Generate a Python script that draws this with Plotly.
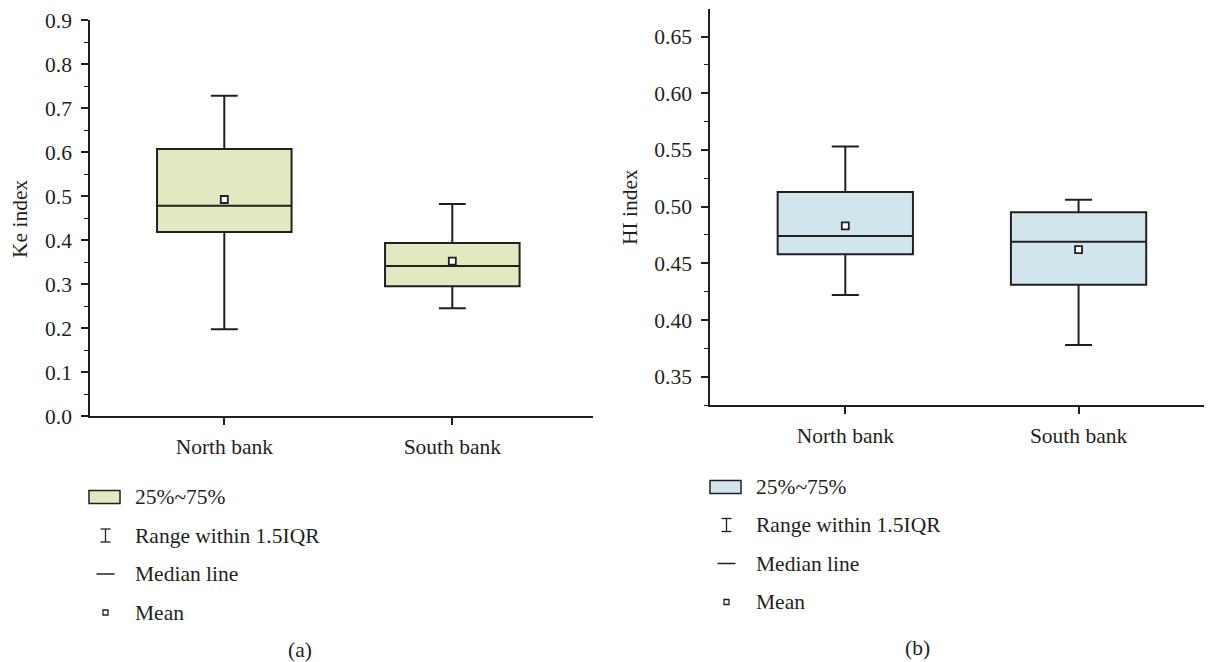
import plotly.graph_objects as go

# ---------------- data ----------------
categories = ["North bank", "South bank"]

# Panel (a): Ke index
ke_q1 = [0.418, 0.295]
ke_median = [0.478, 0.341]
ke_q3 = [0.607, 0.393]
ke_lower = [0.197, 0.245]
ke_upper = [0.728, 0.482]
ke_mean = [0.492, 0.352]

# Panel (b): HI index
hi_q1 = [0.458, 0.431]
hi_median = [0.474, 0.469]
hi_q3 = [0.513, 0.495]
hi_lower = [0.422, 0.378]
hi_upper = [0.553, 0.506]
hi_mean = [0.483, 0.462]

legend_labels = ["25%~75%", "Range within 1.5IQR", "Median line", "Mean"]
panel_labels = ["(a)", "(b)"]
y_titles = ["Ke index", "HI index"]

# ---------------- style ----------------
OFF = 8  # page body margin
W, H = 1212 - OFF, 662 - OFF
INK = "#231F20"
GREEN = "#E0E9C0"
BLUE = "#D1E5EC"
FONT = "Liberation Serif"
FS = 21.5


def px_x(x):
    return (x - OFF) / W


def px_y(y):
    return 1 - (y - OFF) / H


fig = go.Figure()

fig.add_trace(go.Box(
    x=categories, q1=ke_q1, median=ke_median, q3=ke_q3,
    lowerfence=ke_lower, upperfence=ke_upper,
    width=0.59, whiskerwidth=0.2, fillcolor=GREEN,
    line=dict(color=INK, width=2), boxpoints=False,
    xaxis="x", yaxis="y", showlegend=False, hoverinfo="skip"))
fig.add_trace(go.Scatter(
    x=categories, y=ke_mean, mode="markers",
    marker=dict(symbol="square", size=7, color="white", line=dict(color=INK, width=1.8)),
    xaxis="x", yaxis="y", showlegend=False, hoverinfo="skip"))

fig.add_trace(go.Box(
    x=categories, q1=hi_q1, median=hi_median, q3=hi_q3,
    lowerfence=hi_lower, upperfence=hi_upper,
    width=0.58, whiskerwidth=0.2, fillcolor=BLUE,
    line=dict(color=INK, width=2), boxpoints=False,
    xaxis="x2", yaxis="y2", showlegend=False, hoverinfo="skip"))
fig.add_trace(go.Scatter(
    x=categories, y=hi_mean, mode="markers",
    marker=dict(symbol="square", size=7, color="white", line=dict(color=INK, width=1.8)),
    xaxis="x2", yaxis="y2", showlegend=False, hoverinfo="skip"))

tickfont = dict(family=FONT, size=FS, color=INK)

common_x = dict(type="category", showline=True, linecolor=INK, linewidth=1.5,
                ticks="outside", ticklen=7, tickwidth=1.5, tickcolor=INK,
                showgrid=False, zeroline=False, tickfont=tickfont, fixedrange=True,
                automargin=False, ticklabelstandoff=3)
common_y = dict(showline=True, linecolor=INK, linewidth=1.5,
                ticks="outside", ticklen=7, tickwidth=1.5, tickcolor=INK,
                showgrid=False, zeroline=False, tickfont=tickfont, fixedrange=True,
                automargin=False, ticklabelstandoff=5)

fig.update_layout(
    width=W, height=H,
    margin=dict(l=0, r=0, t=0, b=0, autoexpand=False),
    paper_bgcolor="white", plot_bgcolor="white",
    showlegend=False,
    font=dict(family=FONT, size=FS, color=INK),
    xaxis=dict(common_x, domain=[px_x(90), px_x(593)], range=[-0.589, 1.617], anchor="y"),
    yaxis=dict(common_y, domain=[px_y(416), px_y(20)], range=[0, 0.9], dtick=0.1,
               tickformat=".1f", anchor="x",
               minor=dict(dtick=0.05, ticklen=4, tickwidth=1.2, tickcolor=INK, ticks="outside")),
    xaxis2=dict(common_x, domain=[px_x(710), 1.0], range=[-0.58, 1.572], anchor="y2"),
    yaxis2=dict(common_y, domain=[px_y(405.3), px_y(9.3)], range=[0.3248, 0.674],
                tick0=0.35, dtick=0.05, tickformat=".2f", anchor="x2",
                minor=dict(dtick=0.025, tick0=0.325, ticklen=4, tickwidth=1.2, tickcolor=INK,
                           ticks="outside")),
)

annotations = []
shapes = []

# axis titles
annotations.append(dict(x=px_x(20), y=px_y(219), xref="paper", yref="paper", text=y_titles[0],
                        textangle=-90, showarrow=False, xanchor="center", yanchor="middle",
                        font=dict(family=FONT, size=FS, color=INK)))
annotations.append(dict(x=px_x(630), y=px_y(207), xref="paper", yref="paper", text=y_titles[1],
                        textangle=-90, showarrow=False, xanchor="center", yanchor="middle",
                        font=dict(family=FONT, size=FS, color=INK)))

# legends
legend_specs = [
    dict(sx0=89, sx1=120, tx=133, rows=[497, 535.5, 574, 612.5], fill=GREEN, lab=(300, 650), name=panel_labels[0]),
    dict(sx0=710, sx1=741, tx=754, rows=[487, 525, 563.5, 602], fill=BLUE, lab=(917, 648), name=panel_labels[1]),
]
for spec in legend_specs:
    cx = (spec["sx0"] + spec["sx1"]) / 2 + 1
    r0, r1, r2, r3 = spec["rows"]
    shapes.append(dict(type="rect", xref="paper", yref="paper",
                       x0=px_x(spec["sx0"]), x1=px_x(spec["sx1"]),
                       y0=px_y(r0 - 6.5), y1=px_y(r0 + 6.5),
                       fillcolor=spec["fill"], line=dict(color=INK, width=1.5)))
    shapes.append(dict(type="line", xref="paper", yref="paper",
                       x0=px_x(cx), x1=px_x(cx), y0=px_y(r1 - 6.5), y1=px_y(r1 + 6.5),
                       line=dict(color=INK, width=1.3)))
    for yy in (r1 - 6.5, r1 + 6.5):
        shapes.append(dict(type="line", xref="paper", yref="paper",
                           x0=px_x(cx - 5), x1=px_x(cx + 5), y0=px_y(yy), y1=px_y(yy),
                           line=dict(color=INK, width=1.3)))
    shapes.append(dict(type="line", xref="paper", yref="paper",
                       x0=px_x(cx - 9), x1=px_x(cx + 9), y0=px_y(r2), y1=px_y(r2),
                       line=dict(color=INK, width=1.5)))
    shapes.append(dict(type="rect", xref="paper", yref="paper",
                       x0=px_x(cx - 2.5), x1=px_x(cx + 2.5), y0=px_y(r3 - 2.5), y1=px_y(r3 + 2.5),
                       fillcolor="white", line=dict(color=INK, width=1.3)))
    for txt, ry in zip(legend_labels, spec["rows"]):
        annotations.append(dict(x=px_x(spec["tx"]), y=px_y(ry), xref="paper", yref="paper",
                                text=txt, showarrow=False, xanchor="left", yanchor="middle",
                                font=dict(family=FONT, size=FS, color=INK)))
    annotations.append(dict(x=px_x(spec["lab"][0]), y=px_y(spec["lab"][1]), xref="paper", yref="paper",
                            text=spec["name"], showarrow=False, xanchor="center", yanchor="middle",
                            font=dict(family=FONT, size=FS, color=INK)))

fig.update_layout(annotations=annotations, shapes=shapes)

fig.write_html("out.html")
